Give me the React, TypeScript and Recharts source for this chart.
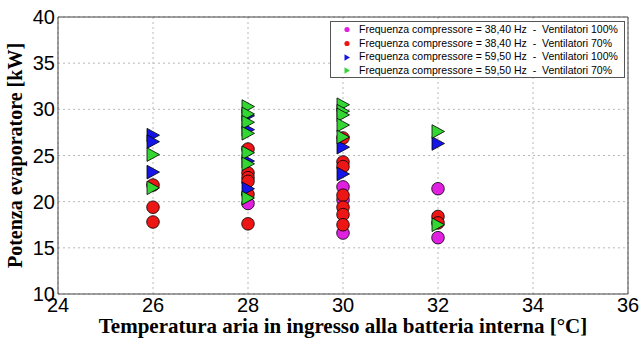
import React from "react";
import {
  ScatterChart, Scatter, XAxis, YAxis, CartesianGrid, Legend,
} from "recharts";

// temperature [°C] / evaporator power [kW], one pair of arrays per test series
const f38v100X = [28, 30, 30, 30, 32, 32];
const f38v100Y = [19.8, 21.6, 20.2, 16.6, 21.4, 16.1];

const f38v70X = [26, 26, 26, 28, 28, 28, 28, 28, 28, 30, 30, 30, 30, 30, 30, 30, 32, 32];
const f38v70Y = [21.8, 19.4, 17.8, 25.7, 23.1, 22.6, 22.2, 20.8, 17.6, 26.9, 24.3, 23.8, 20.7, 19.4, 18.6, 17.5, 18.4, 17.7];

const f59v100X = [26, 26, 26, 28, 28, 28, 28, 30, 30, 32];
const f59v100Y = [27.2, 26.5, 23.2, 29.3, 27.8, 24.4, 21.4, 25.9, 23.0, 26.3];

const f59v70X = [26, 26, 28, 28, 28, 28, 28, 28, 28, 30, 30, 30, 30, 30, 32, 32];
const f59v70Y = [25.1, 21.5, 30.3, 29.5, 28.6, 27.4, 25.3, 24.1, 20.4, 30.5, 29.8, 29.4, 28.3, 27.0, 27.6, 17.5];

const seriesNames = [
  "Frequenza compressore = 38,40 Hz  -  Ventilatori 100%",
  "Frequenza compressore = 38,40 Hz  -  Ventilatori 70%",
  "Frequenza compressore = 59,50 Hz  -  Ventilatori 100%",
  "Frequenza compressore = 59,50 Hz  -  Ventilatori 70%",
];

const xTicks = [24, 26, 28, 30, 32, 34, 36];
const yTicks = [10, 15, 20, 25, 30, 35, 40];
const xMinor = Array.from({ length: 31 }, (_, i) => +(24 + i * 0.4).toFixed(1));
const yMinor = Array.from({ length: 13 }, (_, i) => 10 + i * 2.5);

const toPoints = (xs: number[], ys: number[]) => xs.map((x, i) => ({ x, y: ys[i] }));

const MAGENTA = "#e020e0";
const RED = "#ee1515";
const BLUE = "#1515e8";
const GREEN = "#33d633";

const sans = "'Liberation Sans', Arial, sans-serif";
const serif = "'Liberation Serif', 'Times New Roman', serif";

const circle = (fill: string) => (p: any) => (
  <circle cx={p.cx} cy={p.cy} r={6.3} fill={fill} stroke="#000" strokeWidth={0.8} />
);

const triangle = (fill: string) => (p: any) => (
  <polygon
    points={`${p.cx - 6},${p.cy - 6.8} ${p.cx + 6.5},${p.cy} ${p.cx - 6},${p.cy + 6.8}`}
    fill={fill}
    stroke="#000"
    strokeWidth={0.8}
    strokeLinejoin="round"
  />
);

function LegendBox({ payload }: any) {
  return (
    <div style={{ fontFamily: sans, fontSize: 10.5, color: "#000", paddingTop: 1 }}>
      {(payload || []).map((it: any, i: number) => (
        <div key={i} style={{ height: 13.7, lineHeight: "13.7px", display: "flex", alignItems: "center", whiteSpace: "pre" }}>
          <svg width={28} height={13} style={{ flex: "none" }}>
            {i < 2 ? (
              <circle cx={16} cy={6.5} r={2.6} fill={it.color} />
            ) : (
              <polygon points="13.5,3.3 19,6.5 13.5,9.7" fill={it.color} />
            )}
          </svg>
          <span>{it.value}</span>
        </div>
      ))}
    </div>
  );
}

export default function App() {
  return (
    <div style={{ position: "absolute", left: 0, top: 0, background: "#fff" }}>
      <ScatterChart width={640} height={339} margin={{ top: 17, right: 12, bottom: 0, left: 0 }}>
        <CartesianGrid stroke="#b8b8b8" strokeDasharray="2 3" />
        <XAxis
          type="number"
          dataKey="x"
          domain={[24, 36]}
          ticks={xTicks}
          height={45}
          tickLine={false}
          tickSize={0}
          tickMargin={4}
          axisLine={{ stroke: "#444" }}
          tick={{ fontFamily: sans, fontSize: 20, fill: "#000" }}
          label={{
            value: "Temperatura aria in ingresso alla batteria interna [°C]",
            position: "insideBottom",
            offset: 6,
            style: { fontFamily: serif, fontWeight: "bold", fontSize: 21, fill: "#000" },
          }}
        />
        <YAxis
          type="number"
          dataKey="y"
          domain={[10, 40]}
          ticks={yTicks}
          width={58}
          tickLine={false}
          tickSize={0}
          tickMargin={3}
          axisLine={{ stroke: "#444" }}
          tick={{ fontFamily: sans, fontSize: 20, fill: "#000" }}
          label={{
            value: "Potenza evaporatore [kW]",
            angle: -90,
            position: "insideLeft",
            offset: 15,
            style: { textAnchor: "middle", fontFamily: serif, fontWeight: "bold", fontSize: 20, fill: "#000" },
          }}
        />
        {/* minor ticks pointing inwards, plus the top and right frame */}
        <XAxis xAxisId="minB" type="number" domain={[24, 36]} ticks={xMinor} mirror tick={false} tickSize={4} axisLine={false} tickLine={{ stroke: "#444" }} />
        <XAxis xAxisId="minT" orientation="top" type="number" domain={[24, 36]} ticks={xMinor} mirror tick={false} tickSize={4} axisLine={{ stroke: "#444" }} tickLine={{ stroke: "#444" }} />
        <YAxis yAxisId="minL" type="number" domain={[10, 40]} ticks={yMinor} mirror tick={false} tickSize={4} axisLine={false} tickLine={{ stroke: "#444" }} />
        <YAxis yAxisId="minR" orientation="right" type="number" domain={[10, 40]} ticks={yMinor} mirror tick={false} tickSize={4} axisLine={{ stroke: "#444" }} tickLine={{ stroke: "#444" }} />
        <Legend
          layout="vertical"
          align="center"
          verticalAlign="middle"
          content={<LegendBox />}
          wrapperStyle={{
            left: 330,
            top: 21,
            width: 295,
            height: 57,
            border: "1px solid #555",
            background: "#fff",
            boxSizing: "border-box",
          }}
        />
        <Scatter name={seriesNames[0]} data={toPoints(f38v100X, f38v100Y)} fill={MAGENTA} shape={circle(MAGENTA)} isAnimationActive={false} />
        <Scatter name={seriesNames[1]} data={toPoints(f38v70X, f38v70Y)} fill={RED} shape={circle(RED)} isAnimationActive={false} />
        <Scatter name={seriesNames[2]} data={toPoints(f59v100X, f59v100Y)} fill={BLUE} shape={triangle(BLUE)} isAnimationActive={false} />
        <Scatter name={seriesNames[3]} data={toPoints(f59v70X, f59v70Y)} fill={GREEN} shape={triangle(GREEN)} isAnimationActive={false} />
      </ScatterChart>
    </div>
  );
}
